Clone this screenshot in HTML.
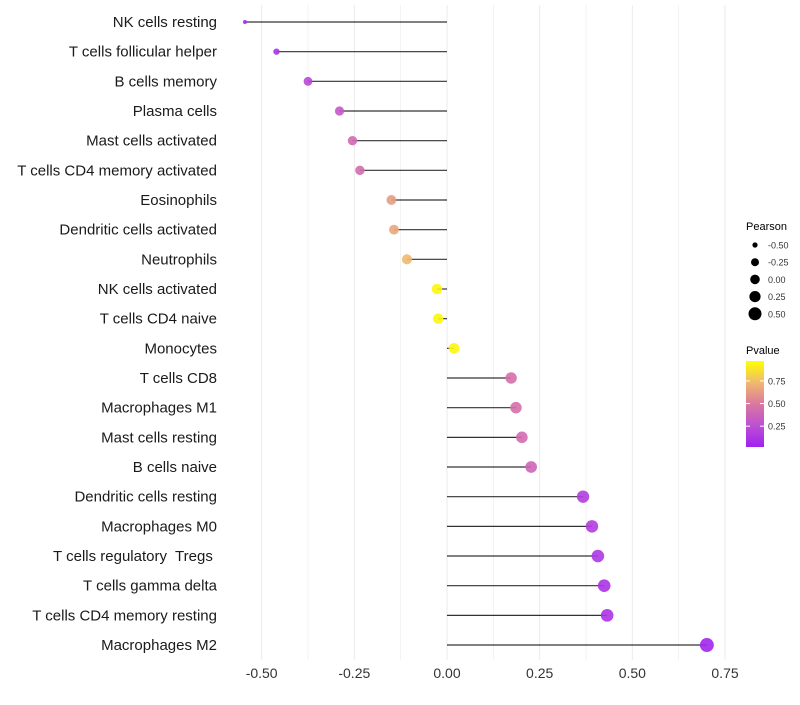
<!DOCTYPE html>
<html><head><meta charset="utf-8"><style>
body{margin:0;background:#fff;font-family:"Liberation Sans",sans-serif}
text{white-space:pre}
</style></head><body>
<svg id="c" width="800" height="700" xmlns="http://www.w3.org/2000/svg"></svg>
<script>
const categories=["NK cells resting","T cells follicular helper","B cells memory","Plasma cells","Mast cells activated","T cells CD4 memory activated","Eosinophils","Dendritic cells activated","Neutrophils","NK cells activated","T cells CD4 naive","Monocytes","T cells CD8","Macrophages M1","Mast cells resting","B cells naive","Dendritic cells resting","Macrophages M0","T cells regulatory  Tregs ","T cells gamma delta","T cells CD4 memory resting","Macrophages M2"];
const pearson=[-0.545,-0.46,-0.375,-0.29,-0.255,-0.235,-0.15,-0.143,-0.108,-0.027,-0.024,0.019,0.173,0.186,0.202,0.227,0.367,0.391,0.407,0.424,0.432,0.701];
const pvalue=[0.05,0.1,0.2,0.3,0.4,0.42,0.65,0.68,0.75,0.97,0.97,0.97,0.45,0.45,0.42,0.38,0.15,0.15,0.12,0.1,0.1,0.03];
const xTicks=[-0.5,-0.25,0,0.25,0.5,0.75];
const xTickLabels=["-0.50","-0.25","0.00","0.25","0.50","0.75"];
const sizeLegend=[-0.5,-0.25,0,0.25,0.5];
const sizeLegendLabels=["-0.50","-0.25","0.00","0.25","0.50"];
const colorLegendTicks=[0.25,0.5,0.75];

const svg=document.getElementById('c');const NS="http://www.w3.org/2000/svg";
const x=v=>447+v*370.7;
const y=i=>22+i*29.667;
const r=v=>{const rr=v>=-0.375?4.4+2.4*(v+0.375):4.4-14*(-0.375-v);return Math.max(1.8,rr);};
function lerp(a,b,t){return a.map((c,i)=>Math.round(c+(b[i]-c)*t));}
function col(p){const s=[[0,[160,32,240]],[0.25,[190,80,210]],[0.5,[218,120,160]],[0.75,[240,185,110]],[1,[255,255,0]]];
 for(let k=0;k<s.length-1;k++){if(p<=s[k+1][0]){const t=(p-s[k][0])/(s[k+1][0]-s[k][0]);return 'rgb('+lerp(s[k][1],s[k+1][1],t).join(',')+')';}}return 'rgb(255,255,0)';}
function mk(t,a,p){const e=document.createElementNS(NS,t);for(const k in a)e.setAttribute(k,a[k]);(p||svg).appendChild(e);return e;}
for(let v=-0.5;v<=0.751;v+=0.125){const g=mk('line',{x1:x(v),x2:x(v),y1:5,y2:660,stroke:'#ebebeb','stroke-width':Math.abs((v*4)%1)<0.01?1:0.6});
}
xTicks.forEach((v,i)=>{const t=mk('text',{x:x(v),y:678,'text-anchor':'middle','font-size':14,fill:'#333'});t.textContent=xTickLabels[i];
});
categories.forEach((c,i)=>{
 const t=mk('text',{x:217,y:y(i)+5,'text-anchor':'end','font-size':15,fill:'#1a1a1a'});t.textContent=c;
 
 const l=mk('line',{x1:x(0),x2:x(pearson[i]),y1:y(i),y2:y(i),stroke:'#000','stroke-opacity':0.8,'stroke-width':1.2});
 
 const d=mk('circle',{cx:x(pearson[i]),cy:y(i),r:r(pearson[i]),fill:col(pvalue[i]),'fill-opacity':0.9});
 
});
let t=mk('text',{x:746,y:230,'font-size':11,fill:'#000'});t.textContent='Pearson';

const legR=[2.6,4,4.8,5.6,6.5];
sizeLegend.forEach((v,i)=>{const cy=245+i*17.2;
 const c=mk('circle',{cx:755,cy:cy,r:legR[i],fill:'#000'});
 const tt=mk('text',{x:768,y:cy+3.5,'font-size':9,fill:'#333'});tt.textContent=sizeLegendLabels[i];
 });
t=mk('text',{x:746,y:354,'font-size':11,fill:'#000'});t.textContent='Pvalue';

const defs=mk('defs',{});const gr=mk('linearGradient',{id:'g',x1:0,y1:1,x2:0,y2:0},defs);
[0,0.25,0.5,0.75,1].forEach(p=>mk('stop',{offset:p,'stop-color':col(p)},gr));
const bar=mk('rect',{x:746,y:361,width:18,height:86,fill:'url(#g)'});
colorLegendTicks.forEach(p=>{const yy=447-(p-0.02)/(0.97-0.02)*86;
 mk('line',{x1:746,x2:750,y1:yy,y2:yy,stroke:'#fff'});mk('line',{x1:760,x2:764,y1:yy,y2:yy,stroke:'#fff'});
 const tt=mk('text',{x:768,y:yy+3.5,'font-size':9,fill:'#333'});tt.textContent=p.toFixed(2);
 });
</script></body></html>
